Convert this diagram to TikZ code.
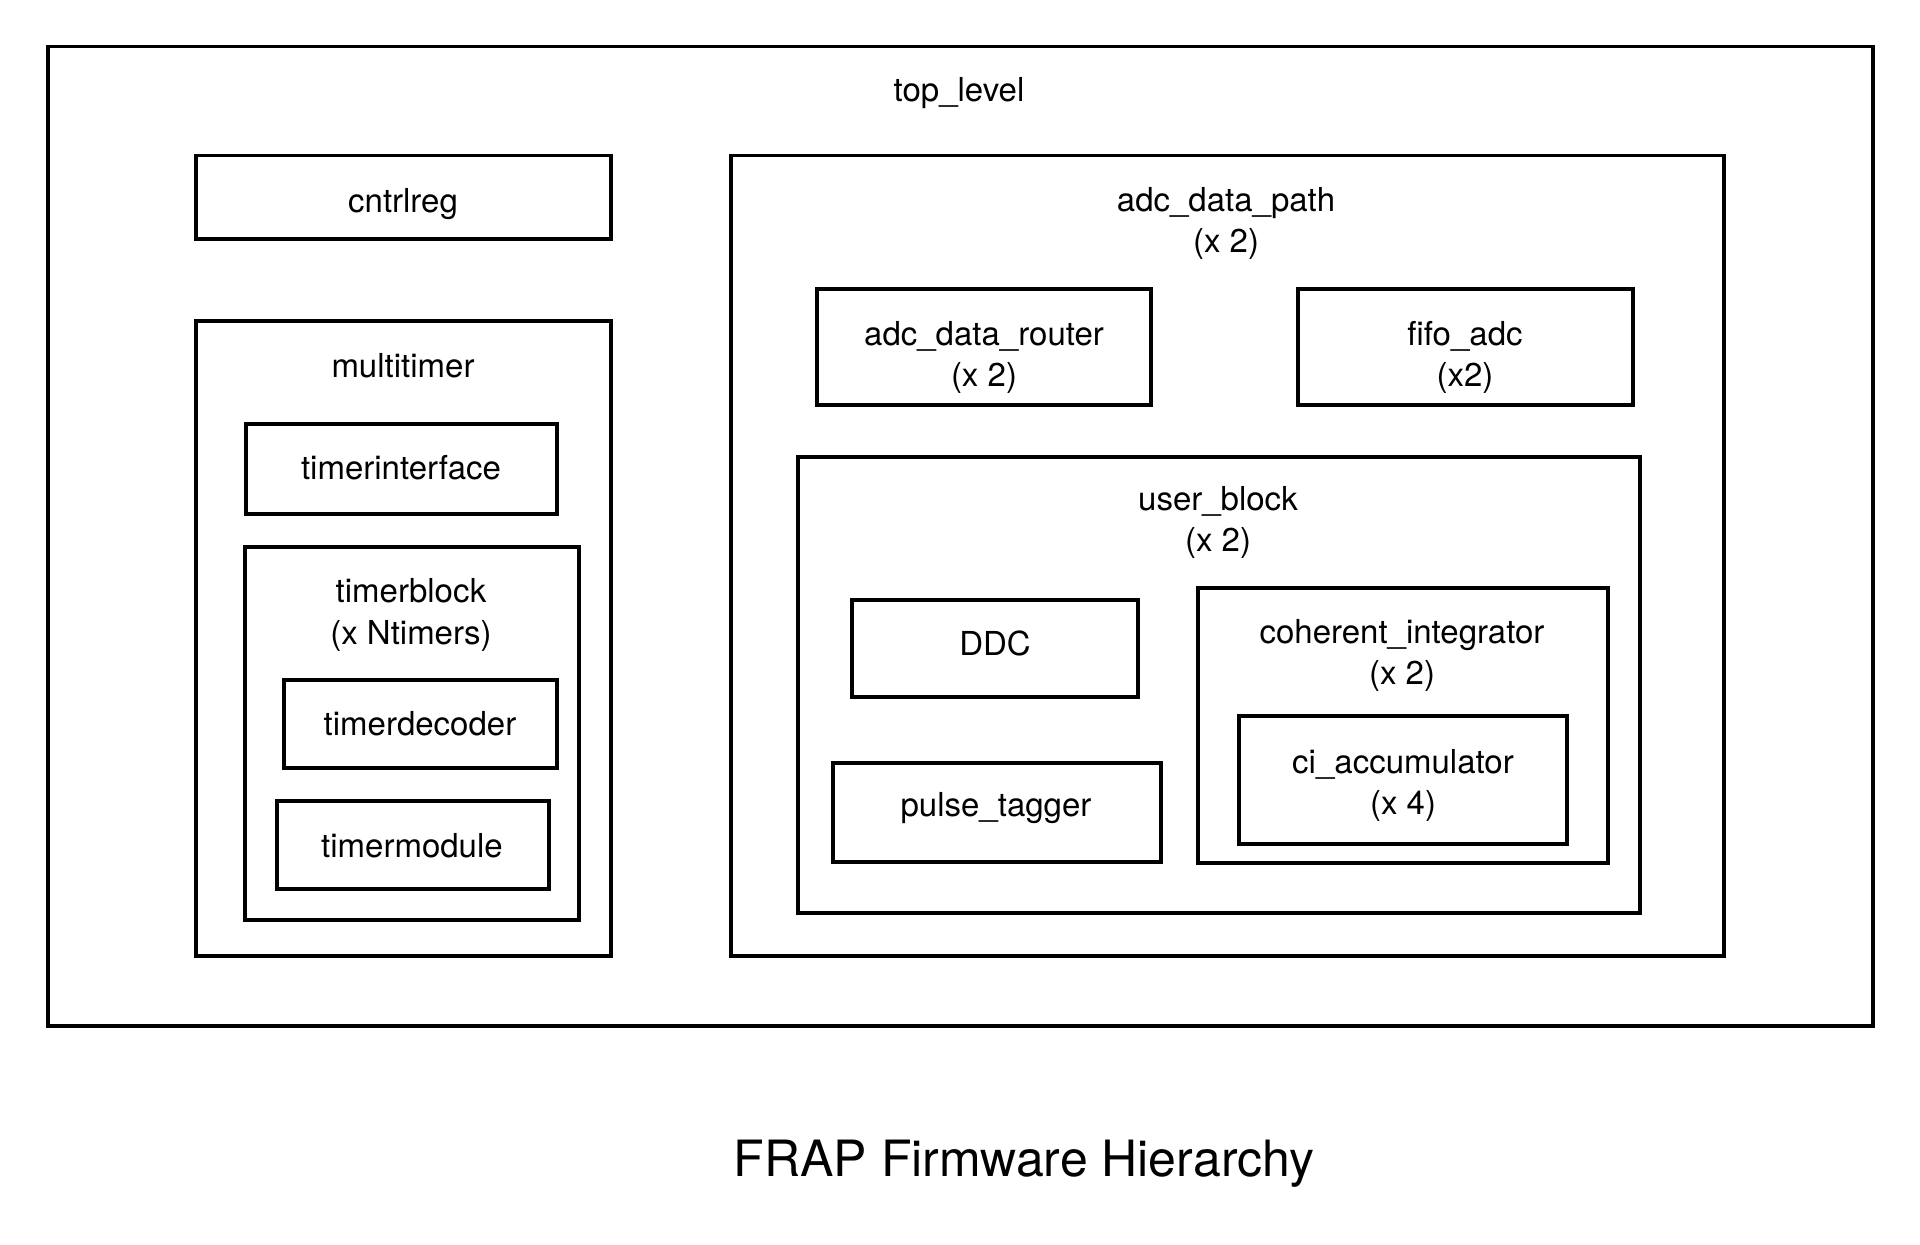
\documentclass[tikz,border=0pt]{standalone}
\usepackage{fontspec}
\setmainfont{TeX Gyre Heros}
\usetikzlibrary{fit}
\begin{document}
\begin{tikzpicture}[x=1pt,y=-1pt,
  blk/.style={draw=black,line width=3.5pt,inner sep=0pt,outer sep=0pt},
  lbl/.style={anchor=base,inner sep=0pt,font=\fontsize{33}{41.6}\selectfont},
  captiontext/.style={anchor=base,inner sep=0pt,font=\fontsize{50}{60}\selectfont}]
\useasboundingbox (0,0) rectangle (1920,1245);
% boxes
\node[blk,fit={(48,46.5) (1873,1026)}] (top) {};
\node[blk,fit={(196,155.5) (611,239)}] (cntrl) {};
\node[blk,fit={(196,321) (611,956)}] (multi) {};
\node[blk,fit={(246,424) (557,514)}] (tint) {};
\node[blk,fit={(245,547) (579,920)}] (tblock) {};
\node[blk,fit={(284,680) (557,768)}] (tdec) {};
\node[blk,fit={(277,801) (549,889)}] (tmod) {};
\node[blk,fit={(731,155.5) (1724,956)}] (adp) {};
\node[blk,fit={(817,289) (1151,405)}] (adr) {};
\node[blk,fit={(1298,289) (1633,405)}] (fifo) {};
\node[blk,fit={(798,457) (1640,913)}] (user) {};
\node[blk,fit={(852,600) (1138,697)}] (ddc) {};
\node[blk,fit={(833,763) (1161,862)}] (pulse) {};
\node[blk,fit={(1198,588) (1608,863)}] (coh) {};
\node[blk,fit={(1239,716) (1567,844)}] (ci) {};
% labels
\node[lbl] (topL) at (959,101) {top\_level};
\node[lbl] (cntrlL) at (403,212) {cntrlreg};
\node[lbl] (multiL) at (403,377) {multitimer};
\node[lbl] (tintL) at (401,479) {timerinterface};
\node[lbl] (tblockL) at (411,602) {timerblock};
\node[lbl] (tblockM) at (411,644) {(x Ntimers)};
\node[lbl] (tdecL) at (420,735) {timerdecoder};
\node[lbl] (tmodL) at (412,857) {timermodule};
\node[lbl] (adpL) at (1226,211) {adc\_data\_path};
\node[lbl] (adpM) at (1226,252) {(x 2)};
\node[lbl] (adrL) at (984,345) {adc\_data\_router};
\node[lbl] (adrM) at (984,386) {(x 2)};
\node[lbl] (fifoL) at (1465,345) {fifo\_adc};
\node[lbl] (fifoM) at (1465,386) {(x2)};
\node[lbl] (userL) at (1218,510) {user\_block};
\node[lbl] (userM) at (1218,551) {(x 2)};
\node[lbl] (ddcL) at (995,655) {DDC};
\node[lbl] (pulseL) at (996,816) {pulse\_tagger};
\node[lbl] (cohL) at (1402,643) {coherent\_integrator};
\node[lbl] (cohM) at (1402,684) {(x 2)};
\node[lbl] (ciL) at (1403,773) {ci\_accumulator};
\node[lbl] (ciM) at (1403,814) {(x 4)};
\node[captiontext] (title) at (1024,1176) {FRAP Firmware Hierarchy};
\end{tikzpicture}
\end{document}
